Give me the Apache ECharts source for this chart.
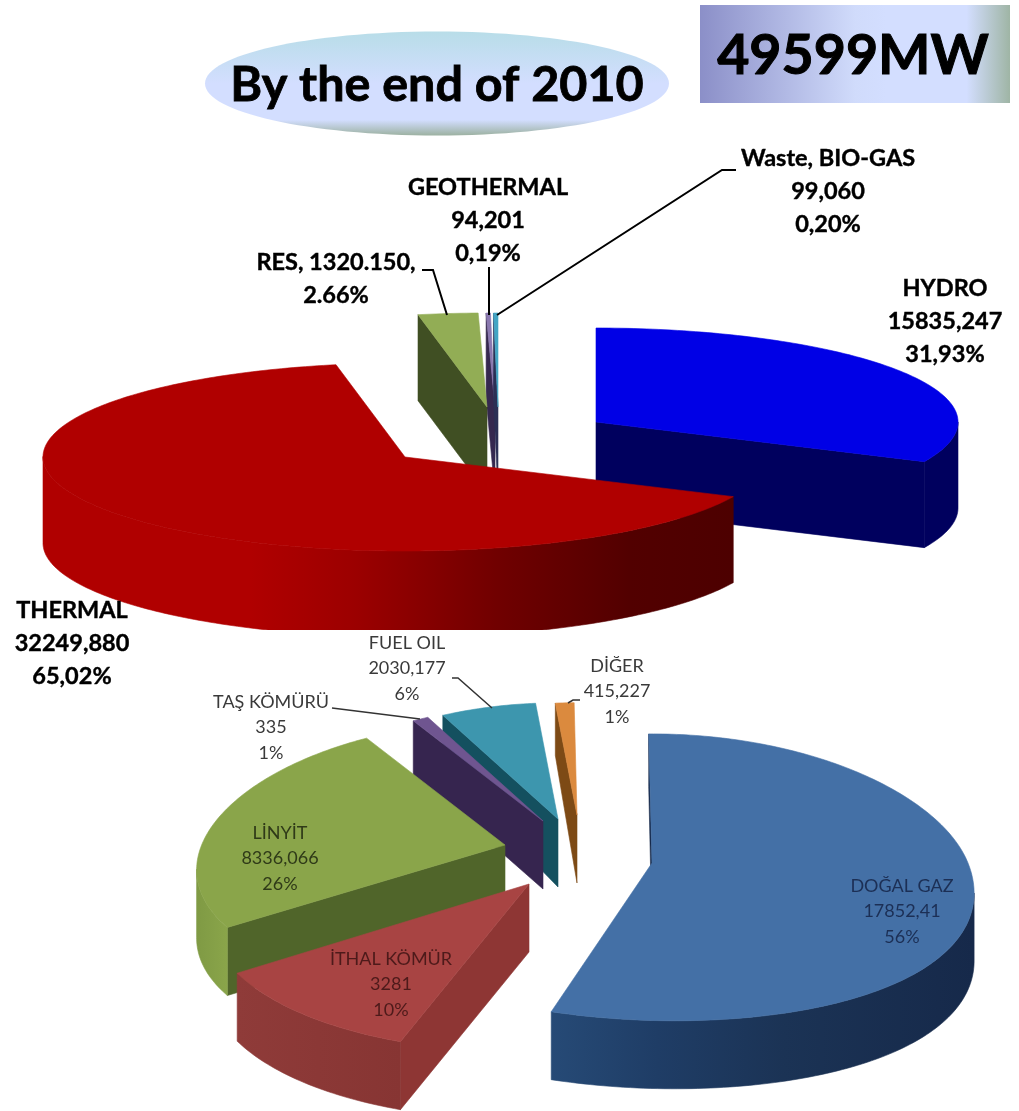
<!DOCTYPE html>
<html><head><meta charset="utf-8">
<style>html,body{margin:0;padding:0;background:#fff}#c{width:1019px;height:1111px}</style>
<script src="https://cdn.jsdelivr.net/npm/echarts@6/dist/echarts.min.js"></script>
</head><body><div id="c"></div>
<script>
// ---------- data ----------
var headline = 'By the end of 2010';
var totalLabel = '49599MW';

var capacityNames = ['HYDRO', 'THERMAL', 'RES, 1320.150,', 'GEOTHERMAL', 'Waste, BIO-GAS'];
var capacityValues = [15835.247, 32249.880, 1320.150, 94.201, 99.060];
var capacityValueLabels = ['15835,247', '32249,880', '', '94,201', '99,060'];
var capacityPercentLabels = ['31,93%', '65,02%', '2.66%', '0,19%', '0,20%'];

var thermalNames = ['DOĞAL GAZ', 'İTHAL KÖMÜR', 'LİNYİT', 'TAŞ KÖMÜRÜ', 'FUEL OIL', 'DİĞER'];
var thermalValues = [17852.41, 3281, 8336.066, 335, 2030.177, 415.227];
var thermalValueLabels = ['17852,41', '3281', '8336,066', '335', '2030,177', '415,227'];
var thermalPercentLabels = ['56%', '10%', '26%', '1%', '6%', '1%'];

// ---------- styling / layout ----------
var FONT = 'Lato, Carlito, "Open Sans", sans-serif';
var topPie = {
  names: capacityNames, values: capacityValues, valueLabels: capacityValueLabels, percentLabels: capacityPercentLabels,
  center: [490, 430], rx: 362, ry: 94, depth: 86, px: 0, py: 0, dp: 0, rotation: 0,
  explode: [[106, -8], [-85, 27], [-3, -23], [5, -23], [8, -23]],
  scale: [1, 1, 1, 1, 1], shear: [0, 0, 0, 0, 0], sag: [0, 0, 0, 0, 0],
  order: [3, 4, 0, 2, 1],
  top: ['#0000e6', '#b00000', '#92ad55', '#8a78b0', '#44a5c4'],
  cut: ['#00005e', '#4d0000', '#404f23', '#35284f', '#2b2f55'],
  rim: [[[0, '#00005e'], [1, '#00005e']],
        [[0, '#b00000'], [0.3, '#b00000'], [0.45, '#9c0000'], [0.66, '#700000'], [0.85, '#520000'], [1, '#4d0000']],
        [[0, '#404f23'], [1, '#404f23']], [[0, '#35284f'], [1, '#35284f']], [[0, '#2b2f55'], [1, '#2b2f55']]],
  clipBottom: 630,
  font: 'bold 23.5px', lh: 33, bold: 0.4, text: ['#000', '#000', '#000', '#000', '#000'],
  labelAt: [[945, 288], [72, 610], [336, 262], [488, 187], [828, 158]]
};
var lowPie = {
  names: thermalNames, values: thermalValues, valueLabels: thermalValueLabels, percentLabels: thermalPercentLabels,
  center: [575, 850], rx: 316, ry: 142, depth: 68, px: 0.18, py: 0.1, dp: 0.3, rotation: -0.7,
  explode: [[77, 13], [-46, 34], [-70, -5], [-32, -29], [-17, -31], [2, -35]],
  scale: [1, 1, 0.96, 0.9, 0.9, 0.87], shear: [23, -8, 0, 0, 0, 0], sag: [0, 10, 0, 0, 0, 0],
  order: [5, 4, 3, 2, 1, 0],
  top: ['#4470a6', '#a84443', '#8aa54a', '#6f5590', '#3d96ae', '#db8a3e'],
  cut: ['#15294a', '#8e3634', '#50652a', '#36254f', '#14505f', '#7d4a15'],
  rim: [[[0, '#264a76'], [0.25, '#1f3d66'], [0.55, '#1b3355'], [1, '#16294a']],
        [[0, '#8f3b39'], [1, '#873533']], [[0, '#7f9a44'], [1, '#8aa54a']],
        [[0, '#36254f'], [1, '#36254f']], [[0, '#14505f'], [1, '#14505f']], [[0, '#7d4a15'], [1, '#7d4a15']]],
  font: '18px', lh: 25.5, bold: 0, text: ['#1c2f55', '#4d1a1a', '#2f3a18', '#3a3a3a', '#3a3a3a', '#3a3a3a'],
  labelAt: [[902, 886], [391, 959], [280, 833], [271, 702], [407, 643], [617, 666]]
};
var leaders = [
  [[422, 270], [433, 270], [447, 315]],
  [[489, 267], [489, 315]],
  [[736, 170], [722, 170], [497, 315]],
  [[332, 708], [420, 719]],
  [[452, 678], [458, 678], [492, 708]],
  [[568, 703], [573, 700], [580, 700]]
];

function makeRender(p) {
  var total = p.values.reduce(function (a, b) { return a + b; }, 0);
  return function (params, api) {
    var i = params.dataIndex;
    var before = 0;
    for (var k = 0; k < i; k++) before += p.values[k];
    var a0 = before / total * 360 + p.rotation;
    var a1 = (before + api.value(0)) / total * 360 + p.rotation;
    var ax = p.center[0] + p.explode[i][0], ay = p.center[1] + p.explode[i][1];
    var sc = p.scale[i];
    function pt(deg) {
      var r = deg * Math.PI / 180, u = Math.sin(r), v = -Math.cos(r);
      var near = v > 0 ? v * v : 0;
      return [ax + p.shear[i] * near + sc * p.rx * u / (1 - p.px * v),
              ay + p.sag[i] * near + sc * p.ry * v / (1 - p.py * v), v];
    }
    var arc = [], n = Math.max(2, Math.ceil(a1 - a0));
    for (var s = 0; s <= n; s++) arc.push(pt(a0 + (a1 - a0) * s / n));
    var apex = [ax, ay, 0], base = p.order.indexOf(i) * 4, kids = [];
    function down(q) {
      var f = q[2] < 0 ? 1 / (1 - p.dp * q[2]) : 1;
      return [q[0], q[1] + p.depth * f];
    }
    function face(points, fill, dz) {
      kids.push({ type: 'polygon', z2: base + dz, shape: { points: points.map(function (q) { return [q[0], q[1]]; }) },
        style: { fill: fill, stroke: fill, lineWidth: 0.6 }, silent: true });
    }
    var sP = arc[0], eP = arc[arc.length - 1];
    if (sP[0] < apex[0]) face([apex, sP, down(sP), down(apex)], p.cut[i], 0);
    if (apex[0] < eP[0]) face([eP, apex, down(apex), down(eP)], p.cut[i], 0);
    var vis = [];
    for (var t = 0; t < arc.length - 1; t++) {
      if (arc[t + 1][0] < arc[t][0]) {
        if (!vis.length) vis.push(arc[t]);
        vis.push(arc[t + 1]);
      }
    }
    if (vis.length > 1) {
      var x0 = vis[vis.length - 1][0], x1 = vis[0][0];
      var stops = p.rim[i].map(function (c) { return { offset: c[0], color: c[1] }; });
      var grad = new echarts.graphic.LinearGradient(x0, 0, x1, 0, stops, true);
      face(vis.concat(vis.slice().reverse().map(down)), grad, 1);
    }
    face([apex].concat(arc), p.top[i], 2);
    var group = { type: 'group', children: kids };
    if (p.clipBottom) group.clipPath = { type: 'rect', shape: { x: 0, y: 0, width: 1019, height: p.clipBottom } };
    var lines = [p.names[i]];
    if (p.valueLabels[i]) lines.push(p.valueLabels[i]);
    lines.push(p.percentLabels[i]);
    var textKids = lines.map(function (l, j) {
      var st = { x: p.labelAt[i][0], y: p.labelAt[i][1] + j * p.lh, text: l, align: 'center', verticalAlign: 'middle',
        font: p.font + ' ' + FONT, fill: p.text[i] };
      if (p.bold) { st.stroke = p.text[i]; st.lineWidth = p.bold; }
      return { type: 'text', z2: 200, silent: true, style: st };
    });
    return { type: 'group', children: [group].concat(textKids) };
  };
}
function rows(arr) { return arr.map(function (v) { return [v]; }); }

var chart = echarts.init(document.getElementById('c'), null, { renderer: 'canvas' });
chart.setOption({
  animation: false,
  backgroundColor: '#fff',
  graphic: { elements: [
    { type: 'ellipse', z: 1, shape: { cx: 437, cy: 83.5, rx: 232, ry: 52 },
      style: { fill: new echarts.graphic.LinearGradient(0, 0, 0, 1, [
        { offset: 0, color: '#b8dde8' }, { offset: 0.5, color: '#d3deff' }, { offset: 0.85, color: '#d3deff' }, { offset: 1, color: '#9cb1a1' }]) } },
    { type: 'text', z: 2, style: { x: 437, y: 85, text: headline, align: 'center', verticalAlign: 'middle', font: 'bold 48.5px ' + FONT, fill: '#000', stroke: '#000', lineWidth: 0.8 } },
    { type: 'rect', z: 1, shape: { x: 700, y: 5, width: 310, height: 98 },
      style: { fill: new echarts.graphic.LinearGradient(0, 0, 1, 0, [
        { offset: 0, color: '#8b8fc8' }, { offset: 0.5, color: '#d0dbfb' }, { offset: 0.6, color: '#d3deff' }, { offset: 0.86, color: '#d3deff' }, { offset: 1, color: '#9fb5a5' }]) } },
    { type: 'text', z: 2, style: { x: 853, y: 56, text: totalLabel, align: 'center', verticalAlign: 'middle', font: 'bold 55.5px ' + FONT, fill: '#000', stroke: '#000', lineWidth: 1 } }
  ].concat(leaders.map(function (pts, i) {
    return { type: 'polyline', z: 20, shape: { points: pts }, style: { fill: null, stroke: i < 3 ? '#000' : '#333', lineWidth: i < 3 ? 2 : 1.5 } };
  })) },
  series: [
    { type: 'custom', coordinateSystem: 'none', z: 5, name: 'Capacity', data: rows(capacityValues), renderItem: makeRender(topPie), silent: true, clip: false },
    { type: 'custom', coordinateSystem: 'none', z: 6, name: 'Thermal', data: rows(thermalValues), renderItem: makeRender(lowPie), silent: true, clip: false }
  ]
});
</script></body></html>
